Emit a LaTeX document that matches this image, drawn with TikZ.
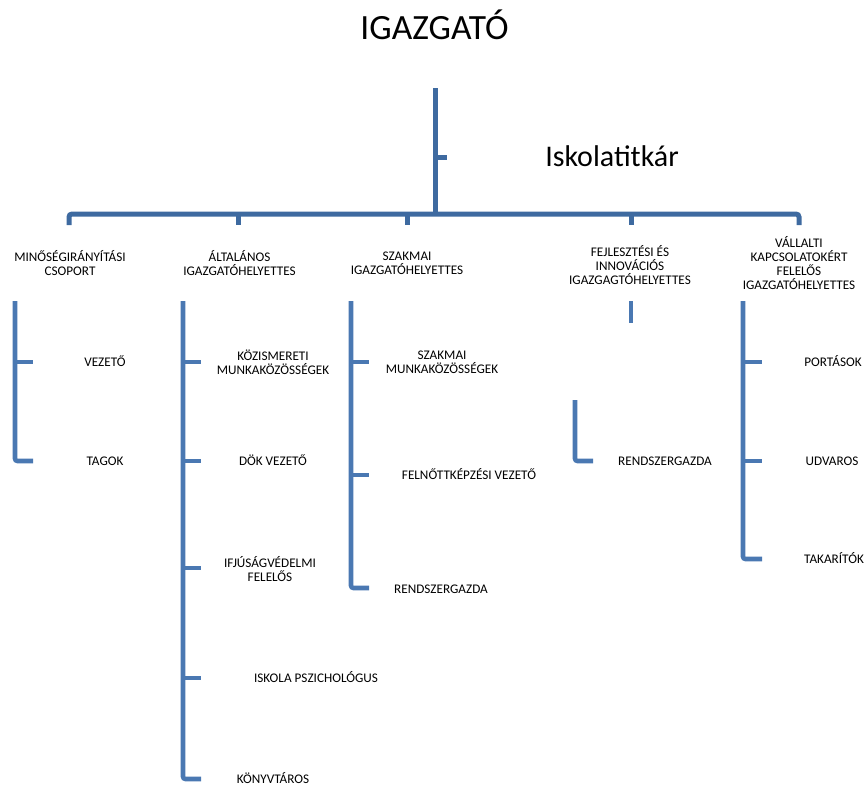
\documentclass[tikz,border=0pt]{standalone}
\usepackage{fontspec}
\setmainfont{Carlito}
\definecolor{topblue}{RGB}{62,106,160}
\definecolor{colblue}{RGB}{74,120,178}
\begin{document}
\begin{tikzpicture}[x=1pt,y=-1pt,
  bigtitle/.style={font=\fontsize{35.5}{40}\selectfont, anchor=base, inner sep=0},
  sectxt/.style={font=\fontsize{30}{34}\selectfont, anchor=base, inner sep=0},
  lab/.style={font=\fontsize{13.2}{14}\selectfont, anchor=base, yshift=-4.3pt, inner sep=0},
  mlab/.style={font=\fontsize{13.2}{14}\selectfont, align=center, anchor=center, inner sep=0},
  topline/.style={draw=topblue, line width=5pt},
  colline/.style={draw=colblue, line width=4.6pt, rounded corners=2.5pt}]
\useasboundingbox (0,0) rectangle (864,785);

% top level
\node[bigtitle] (dir) at (434.5,39) {IGAZGATÓ};
\node[sectxt] (sec) at (612,166.5) {Iskolatitkár};
\coordinate (dtop) at (435,88);
\coordinate (dbar) at (435,214);
\coordinate (stick) at (435,157);
\coordinate (stickend) at (447,157);
\draw[topline] (dtop) -- (dbar);
\draw[topline] (stick) -- (stickend);

% bar and drops
\coordinate (b1) at (69,214); \coordinate (b1d) at (69,225);
\coordinate (b2) at (238,214); \coordinate (b2d) at (238,225);
\coordinate (b3) at (407,214); \coordinate (b3d) at (407,225);
\coordinate (b4) at (631,214); \coordinate (b4d) at (631,225);
\coordinate (b5) at (799,214); \coordinate (b5d) at (799,225);
\draw[topline, rounded corners=3pt] (b1d) -- (b1) -- (b5) -- (b5d);
\draw[topline] (b2) -- (b2d);
\draw[topline] (b3) -- (b3d);
\draw[topline] (b4) -- (b4d);

% level 2 labels
\node[mlab] (m1) at (70,263) {MINŐSÉGIRÁNYÍTÁSI\\CSOPORT};
\node[mlab] (m2) at (239.5,263) {ÁLTALÁNOS\\IGAZGATÓHELYETTES};
\node[mlab] (m3) at (407,263) {SZAKMAI\\IGAZGATÓHELYETTES};
\node[mlab] (m4) at (630,265) {FEJLESZTÉSI ÉS\\INNOVÁCIÓS\\IGAZGAGTÓHELYETTES};
\node[mlab] (m5) at (799,263) {VÁLLALTI\\KAPCSOLATOKÉRT\\FELELŐS\\IGAZGATÓHELYETTES};

% column 1
\coordinate (c1t) at (15,301);
\coordinate (c1a) at (15,362); \coordinate (c1ae) at (33,362);
\coordinate (c1b) at (15,461); \coordinate (c1be) at (33,461);
\draw[colline] (c1t) -- (c1b) -- (c1be);
\draw[colline] (c1a) -- (c1ae);
\node[lab] (vez) at (105,362) {VEZETŐ};
\node[lab] (tag) at (105,461) {TAGOK};

% column 2
\coordinate (c2t) at (183,301);
\coordinate (c2a) at (183,362); \coordinate (c2ae) at (201,362);
\coordinate (c2b) at (183,461); \coordinate (c2be) at (201,461);
\coordinate (c2c) at (183,568); \coordinate (c2ce) at (201,568);
\coordinate (c2d) at (183,678); \coordinate (c2de) at (201,678);
\coordinate (c2e) at (183,779); \coordinate (c2ee) at (201,779);
\draw[colline] (c2t) -- (c2e) -- (c2ee);
\draw[colline] (c2a) -- (c2ae);
\draw[colline] (c2b) -- (c2be);
\draw[colline] (c2c) -- (c2ce);
\draw[colline] (c2d) -- (c2de);
\node[mlab] (koz) at (273,362) {KÖZISMERETI\\MUNKAKÖZÖSSÉGEK};
\node[lab] (dok) at (273,461) {DÖK VEZETŐ};
\node[mlab] (ifj) at (270,569) {IFJÚSÁGVÉDELMI\\FELELŐS};
\node[lab] (psz) at (316,678) {ISKOLA PSZICHOLÓGUS};
\node[lab] (kon) at (273,779) {KÖNYVTÁROS};

% column 3
\coordinate (c3t) at (351,301);
\coordinate (c3a) at (351,362); \coordinate (c3ae) at (369,362);
\coordinate (c3b) at (351,475); \coordinate (c3be) at (369,475);
\coordinate (c3c) at (351,588); \coordinate (c3ce) at (369,588);
\draw[colline] (c3t) -- (c3c) -- (c3ce);
\draw[colline] (c3a) -- (c3ae);
\draw[colline] (c3b) -- (c3be);
\node[mlab] (szm) at (442,362) {SZAKMAI\\MUNKAKÖZÖSSÉGEK};
\node[lab] (fel) at (469,475) {FELNŐTTKÉPZÉSI VEZETŐ};
\node[lab] (rg1) at (441,589) {RENDSZERGAZDA};

% column 4
\coordinate (c4t) at (631,301); \coordinate (c4b) at (631,323);
\draw[colline] (c4t) -- (c4b);
\coordinate (c4bt) at (575,400);
\coordinate (c4bb) at (575,461); \coordinate (c4be) at (593,461);
\draw[colline] (c4bt) -- (c4bb) -- (c4be);
\node[lab] (rg2) at (665,461) {RENDSZERGAZDA};

% column 5
\coordinate (c5t) at (743,301);
\coordinate (c5a) at (743,362); \coordinate (c5ae) at (762,362);
\coordinate (c5b) at (743,461); \coordinate (c5be) at (762,461);
\coordinate (c5c) at (743,559); \coordinate (c5ce) at (762,559);
\draw[colline] (c5t) -- (c5c) -- (c5ce);
\draw[colline] (c5a) -- (c5ae);
\draw[colline] (c5b) -- (c5be);
\node[lab] (por) at (833,362) {PORTÁSOK};
\node[lab] (udv) at (832,461) {UDVAROS};
\node[lab] (tak) at (834,559) {TAKARÍTÓK};
\end{tikzpicture}
\end{document}
